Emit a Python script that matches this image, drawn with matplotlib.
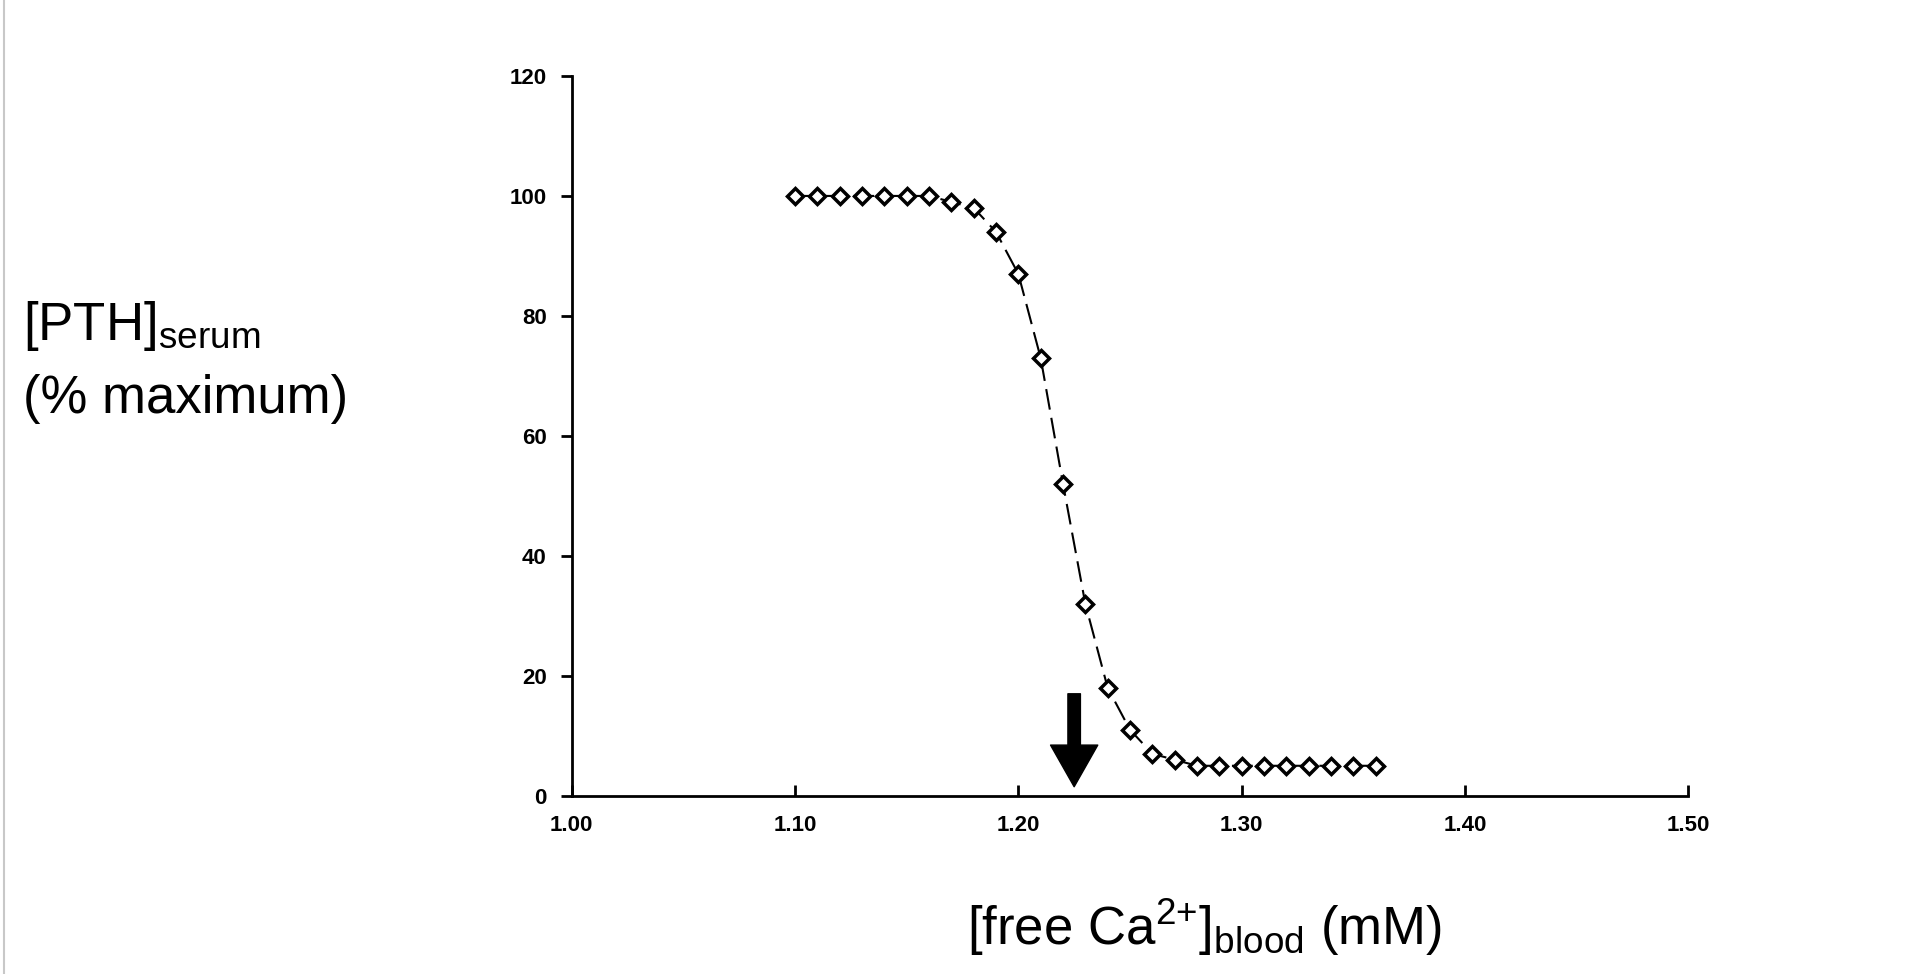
import matplotlib
matplotlib.use("Agg")
import matplotlib.pyplot as plt
from matplotlib.lines import Line2D

ca = [1.10,1.11,1.12,1.13,1.14,1.15,1.16,1.17,1.18,1.19,1.20,1.21,1.22,1.23,1.24,1.25,1.26,1.27,1.28,1.29,1.30,1.31,1.32,1.33,1.34,1.35,1.36]
pth = [100,100,100,100,100,100,100,99,98,94,87,73,52,32,18,11,7,6,5,5,5,5,5,5,5,5,5]
xticks = [1.00,1.10,1.20,1.30,1.40,1.50]
yticks = [0,20,40,60,80,100,120]
arrow_x = 1.225

fig = plt.figure(figsize=(19.12,9.74), dpi=100)
ax = fig.add_axes([0.299,0.183,0.584,0.739])
ax.plot(ca, pth, color="black", lw=1.5, dashes=(10,4), marker="D", ms=8,
        mfc="white", mec="black", mew=2.5)
ax.set_xlim(1.0,1.5); ax.set_ylim(0,120)
ax.set_xticks(xticks); ax.set_xticklabels([f"{v:.2f}" for v in xticks])
ax.set_yticks(yticks); ax.set_yticklabels([str(v) for v in yticks])
for lab in ax.get_xticklabels()+ax.get_yticklabels():
    lab.set_fontweight("bold"); lab.set_fontsize(16); lab.set_family("Liberation Sans")
ax.tick_params(axis="x", direction="in", length=8, width=2, pad=14)
ax.tick_params(axis="y", direction="out", length=8, width=2, pad=10)
for s in ["top","right"]:
    ax.spines[s].set_visible(False)
for s in ["left","bottom"]:
    ax.spines[s].set_linewidth(2)
ax.annotate("", xy=(arrow_x,1.5), xytext=(arrow_x,17),
            arrowprops=dict(facecolor="black", edgecolor="black", width=9, headwidth=34, headlength=30))
fig.text(0.012,0.665,r"[PTH]$_{\mathregular{serum}}$", fontsize=38, family="Liberation Sans", va="center")
fig.text(0.012,0.590,"(% maximum)", fontsize=38, family="Liberation Sans", va="center")
fig.text(0.630,0.048,r"[free Ca$^{\mathregular{2{+}}}$]$_{\mathregular{blood}}$ (mM)", fontsize=38,
         family="Liberation Sans", ha="center", va="center")
fig.add_artist(Line2D([0.002,0.002],[0,1], color="#c8c8c8", lw=1.5, transform=fig.transFigure))
fig.savefig("out.png", dpi=100)
